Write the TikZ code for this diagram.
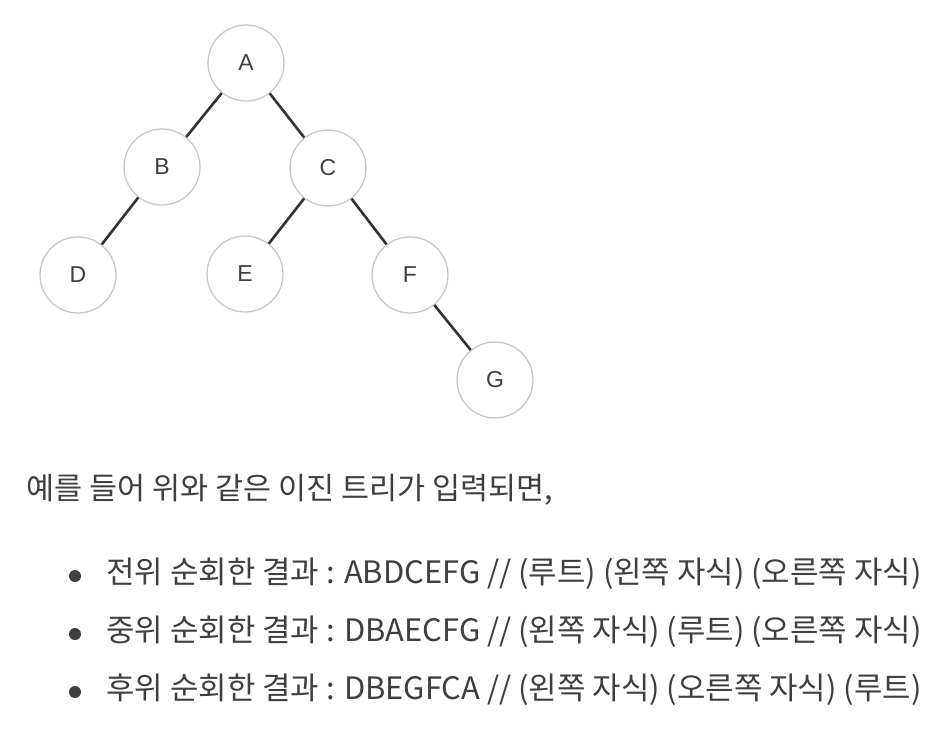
\documentclass[tikz,border=0pt]{standalone}
\usepackage{fontspec}
\setmainfont{Noto Sans CJK KR}
\newfontfamily\nodefont{Liberation Sans}
\usetikzlibrary{positioning}
\definecolor{ringgray}{HTML}{C8C8C8}
\definecolor{edgegray}{HTML}{333333}
\definecolor{textgray}{HTML}{3F3F3F}
\tikzset{
	x=1pt, y=1pt, % one unit is one pixel of the page
	on grid, % node distances are measured centre to centre
	vertex/.style={circle, draw=ringgray, line width=1.3pt, fill=white, minimum size=76pt, inner sep=0pt, font=\nodefont\fontsize{23}{26}\selectfont, text=textgray}, % sets the properties for each tree node
	branch/.style={draw=edgegray, line width=2.6pt}, % the edges between nodes
	line/.style={anchor=west, text=textgray, font=\fontsize{30.5}{34}\selectfont}, % a line of text below the tree
	item/.style={line, font=\fontsize{30.9}{34}\selectfont}, % a list entry, a bit wider
	dot/.style={circle, fill=textgray, minimum size=12pt, inner sep=0pt}, % list bullet
}

\begin{document}
\begin{tikzpicture}
	\useasboundingbox[fill=white] (0,0) rectangle (950,-732);
			\node[vertex] (A) at (246,-63) {A};
			\node[vertex, below left=104pt and 84pt of A] (B) {B};
			\node[vertex, below right=105pt and 82pt of A] (C) {C};
			\node[vertex, below left=108pt and 84pt of B] (D) {D};
			\node[vertex, below left=106pt and 83pt of C] (E) {E};
			\node[vertex, below right=107pt and 82pt of C] (F) {F};
			\node[vertex, below right=105pt and 85pt of F] (G) {G};
	\path[branch] (A) -- (B)
			(A) -- (C)
			(B) -- (D)
			(C) -- (E)
			(C) -- (F)
			(F) -- (G);
			\node[line] (intro) at (23,-490) {예를 들어 위와 같은 이진 트리가 입력되면,};
			\node[dot] (b1) at (75,-576) {};
			\node[dot] (b2) at (75,-634) {};
			\node[dot] (b3) at (75,-692) {};
			\node[item] (pre) at (103,-574) {전위 순회한 결과 : ABDCEFG // (루트) (왼쪽 자식) (오른쪽 자식)};
			\node[item] (in) at (103,-632) {중위 순회한 결과 : DBAECFG // (왼쪽 자식) (루트) (오른쪽 자식)};
			\node[item] (post) at (103,-690) {후위 순회한 결과 : DBEGFCA // (왼쪽 자식) (오른쪽 자식) (루트)};
	\end{tikzpicture}
\end{document}
